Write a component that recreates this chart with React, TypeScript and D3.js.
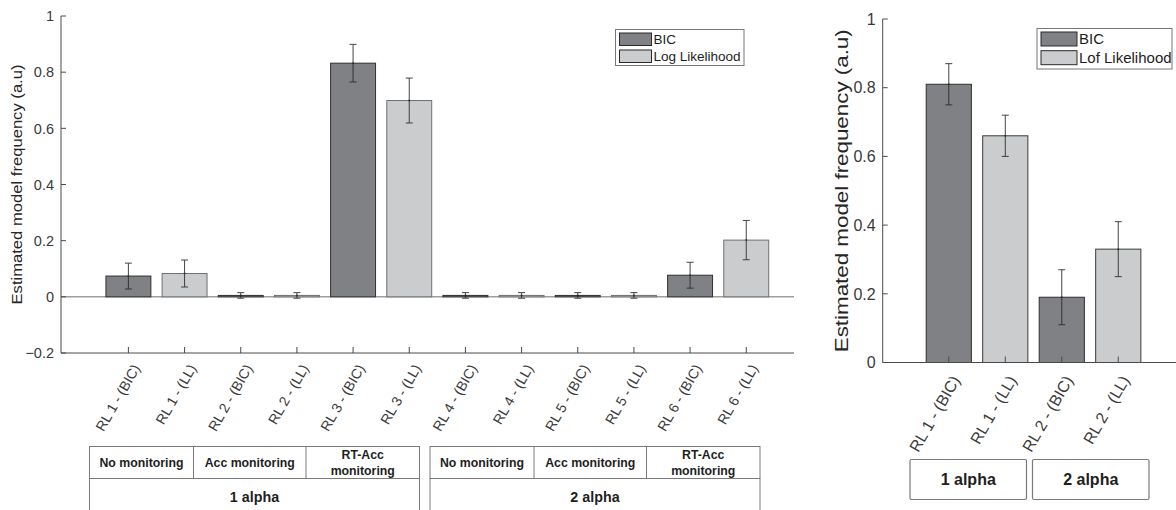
import React from "react";
import * as d3 from "d3";

// ---------- data ----------
const leftCategories = [
  "RL 1 - (BIC)", "RL 1 - (LL)", "RL 2 - (BIC)", "RL 2 - (LL)",
  "RL 3 - (BIC)", "RL 3 - (LL)", "RL 4 - (BIC)", "RL 4 - (LL)",
  "RL 5 - (BIC)", "RL 5 - (LL)", "RL 6 - (BIC)", "RL 6 - (LL)",
];
const leftMethod = ["BIC", "LL", "BIC", "LL", "BIC", "LL", "BIC", "LL", "BIC", "LL", "BIC", "LL"];
const leftValues = [0.074, 0.083, 0.005, 0.005, 0.832, 0.699, 0.005, 0.005, 0.005, 0.005, 0.077, 0.202];
const leftErrors = [0.046, 0.048, 0.01, 0.01, 0.067, 0.08, 0.01, 0.01, 0.01, 0.01, 0.046, 0.07];
const leftYTicks = [-0.2, 0, 0.2, 0.4, 0.6, 0.8, 1];
const leftLegend = ["BIC", "Log Likelihood"];
const monitoringLabels = [["No monitoring"], ["Acc monitoring"], ["RT-Acc", "monitoring"]];
const alphaGroups = ["1 alpha", "2 alpha"];

const rightCategories = ["RL 1 - (BIC)", "RL 1 - (LL)", "RL 2 - (BIC)", "RL 2 - (LL)"];
const rightMethod = ["BIC", "LL", "BIC", "LL"];
const rightValues = [0.81, 0.66, 0.19, 0.33];
const rightErrors = [0.06, 0.06, 0.08, 0.08];
const rightYTicks = [0, 0.2, 0.4, 0.6, 0.8, 1];
const rightLegend = ["BIC", "Lof Likelihood"];

// ---------- style ----------
const FONT = "'Liberation Sans', Arial, Helvetica, sans-serif";
const DARK = "#808184";
const LIGHT = "#cbcccd";
const AXIS = "#4a4a4a";
const TXT = "#3a3a3a";
const fillFor = (m: string) => (m === "BIC" ? DARK : LIGHT);

const fmt = (v: number) => (v === 0 ? "0" : v === 1 ? "1" : d3.format(".1f")(v));

function BarPanel(props: {
  categories: string[]; method: string[]; values: number[]; errors: number[];
  yTicks: number[]; yDomain: [number, number]; yRange: [number, number];
  xDomain: [number, number]; xRange: [number, number];
  tickFont: number; labelFont: number; labelLen: number; labelX: number;
  catFont: number; catDy: number; catDx: number; zeroLine: boolean;
  lightEdge: string;
}) {
  const p = props;
  const y = d3.scaleLinear().domain(p.yDomain).range(p.yRange);
  const x = d3.scaleLinear().domain(p.xDomain).range(p.xRange);
  const bw = (x(1) - x(0)) * 0.8;
  const y0 = y(0);
  const yBottom = y(p.yDomain[0]);
  const yTop = y(p.yDomain[1]);
  const xLeft = p.xRange[0];
  const xRight = p.xRange[1];
  const labelCy = (yTop + yBottom) / 2;
  return (
    <g>
      {p.zeroLine && <line x1={xLeft} x2={xRight} y1={y0} y2={y0} stroke="#6f6f6f" strokeWidth={1} />}
      {p.values.map((v, i) => {
        const cx = x(i + 1);
        const top = y(Math.max(v, 0));
        return (
          <rect key={"b" + i} x={cx - bw / 2} y={top} width={bw} height={Math.abs(y0 - top)}
            fill={fillFor(p.method[i])}
            stroke={p.method[i] === "BIC" ? "#303030" : p.lightEdge} strokeWidth={1} />
        );
      })}
      {p.values.map((v, i) => {
        const cx = x(i + 1);
        const hi = y(v + p.errors[i]);
        const lo = y(v - p.errors[i]);
        return (
          <g key={"e" + i} stroke="#262626" strokeWidth={1} opacity={0.85}>
            <line x1={cx} x2={cx} y1={hi} y2={lo} />
            <line x1={cx - 3.5} x2={cx + 3.5} y1={hi} y2={hi} />
            <line x1={cx - 3.5} x2={cx + 3.5} y1={lo} y2={lo} />
            <circle cx={cx} cy={y(v)} r={1} fill="#262626" stroke="none" />
          </g>
        );
      })}
      <line x1={xLeft} x2={xLeft} y1={yTop} y2={yBottom} stroke={AXIS} strokeWidth={1} />
      <line x1={xLeft} x2={xRight} y1={yBottom} y2={yBottom} stroke={AXIS} strokeWidth={1} />
      {p.yTicks.map((t) => (
        <g key={"yt" + t}>
          <line x1={xLeft} x2={xLeft + 5} y1={y(t)} y2={y(t)} stroke={AXIS} strokeWidth={1} />
          <text x={xLeft - 7} y={y(t)} dy="0.36em" textAnchor="end" fontSize={p.tickFont}
            fill={TXT} fontFamily={FONT}>{fmt(t)}</text>
        </g>
      ))}
      {p.categories.map((c, i) => {
        const cx = x(i + 1);
        return (
          <g key={"xt" + i}>
            <line x1={cx} x2={cx} y1={yBottom} y2={yBottom - 6} stroke={AXIS} strokeWidth={1} />
            <text transform={`translate(${cx + p.catDx},${yBottom + p.catDy}) rotate(-60)`}
              textAnchor="end" dy="0.35em" fontSize={p.catFont} fill={TXT} fontFamily={FONT}>{c}</text>
          </g>
        );
      })}
      <text transform={`translate(${p.labelX},${labelCy}) rotate(-90)`} textAnchor="middle"
        dy="0.35em" fontSize={p.labelFont} fill="#262626" fontFamily={FONT}
        textLength={p.labelLen} lengthAdjust="spacingAndGlyphs">
        Estimated model frequency (a.u)
      </text>
    </g>
  );
}

function Legend(props: { x: number; y: number; w: number; h: number; labels: string[]; font: number;
  sw: number; sh: number; rowGap: number; }) {
  const p = props;
  return (
    <g>
      <rect x={p.x} y={p.y} width={p.w} height={p.h} fill="#fff" stroke="#777" strokeWidth={1} />
      {p.labels.map((l, i) => {
        const ry = p.y + 3.5 + i * p.rowGap;
        return (
          <g key={l}>
            <rect x={p.x + 4} y={ry} width={p.sw} height={p.sh} fill={i === 0 ? DARK : LIGHT}
              stroke="#2a2a2a" strokeWidth={1} />
            <text x={p.x + p.sw + 6} y={ry + p.sh / 2} dy="0.36em" fontSize={p.font}
              fill="#1e1e1e" fontFamily={FONT}>{l}</text>
          </g>
        );
      })}
    </g>
  );
}

export default function App() {
  const groupX = [89.5, 430];
  const cellEdges = [0, 104, 216.5, 330];
  const tableTop = 446.5;
  const rowSplit = 478.5;
  return (
    <svg width={1176} height={510} style={{ position: "absolute", left: 0, top: 0, background: "#fff" }}>
      <rect x={0} y={0} width={1176} height={510} fill="#fff" />
      <BarPanel categories={leftCategories} method={leftMethod} values={leftValues} errors={leftErrors}
        yTicks={leftYTicks} yDomain={[-0.2, 1]} yRange={[353, 16]} xDomain={[-0.2, 12.85]} xRange={[61, 794]}
        tickFont={14.5} labelFont={15.5} labelLen={240} labelX={17} catFont={14} catDy={12.5} catDx={8}
        zeroLine={true} lightEdge="#707070" />
      <Legend x={615.5} y={29.5} w={128.5} h={36} labels={leftLegend} font={13.5} sw={32} sh={12.5} rowGap={17} />

      {groupX.map((gx, g) => (
        <g key={"grp" + g} stroke="#7a7a7a" strokeWidth={1} fill="none">
          <rect x={gx} y={tableTop} width={cellEdges[3]} height={rowSplit - tableTop} />
          <line x1={gx + cellEdges[1]} x2={gx + cellEdges[1]} y1={tableTop} y2={rowSplit} />
          <line x1={gx + cellEdges[2]} x2={gx + cellEdges[2]} y1={tableTop} y2={rowSplit} />
          <line x1={gx} x2={gx} y1={rowSplit} y2={512} />
          <line x1={gx + cellEdges[3]} x2={gx + cellEdges[3]} y1={rowSplit} y2={512} />
        </g>
      ))}
      {groupX.map((gx, g) => (
        <g key={"grt" + g} fontFamily={FONT} fontWeight="bold" fill="#1e1e1e" textAnchor="middle">
          {monitoringLabels.map((lines, k) => {
            const cx = gx + (cellEdges[k] + cellEdges[k + 1]) / 2;
            const cy = (tableTop + rowSplit) / 2;
            return lines.map((ln, j) => (
              <text key={k + "-" + j} x={cx} y={cy + (j - (lines.length - 1) / 2) * 16} dy="0.36em"
                fontSize={12.3}>{ln}</text>
            ));
          })}
          <text x={gx + cellEdges[3] / 2} y={496.5} dy="0.36em" fontSize={14.3}>{alphaGroups[g]}</text>
        </g>
      ))}

      <BarPanel categories={rightCategories} method={rightMethod} values={rightValues} errors={rightErrors}
        yTicks={rightYTicks} yDomain={[0, 1]} yRange={[362.5, 19]} xDomain={[-0.17, 5.5]} xRange={[882.7, 1203]}
        tickFont={16} labelFont={18} labelLen={323} labelX={841.5} catFont={16} catDy={14.5} catDx={7}
        zeroLine={false} lightEdge="#3a3a3a" />
      <Legend x={1037} y={28.5} w={135} h={40.5} labels={rightLegend} font={15} sw={36} sh={14} rowGap={18.7} />

      {alphaGroups.map((a, g) => {
        const bx = [910, 1032.5][g];
        return (
          <g key={"rb" + g}>
            <rect x={bx} y={459.5} width={116.5} height={40} rx={1.5} fill="#fff" stroke="#7a7a7a" strokeWidth={1.2} />
            <text x={bx + 58.25} y={479.5} dy="0.36em" textAnchor="middle" fontFamily={FONT} fontWeight="bold"
              fontSize={16} fill="#1e1e1e">{a}</text>
          </g>
        );
      })}
    </svg>
  );
}
